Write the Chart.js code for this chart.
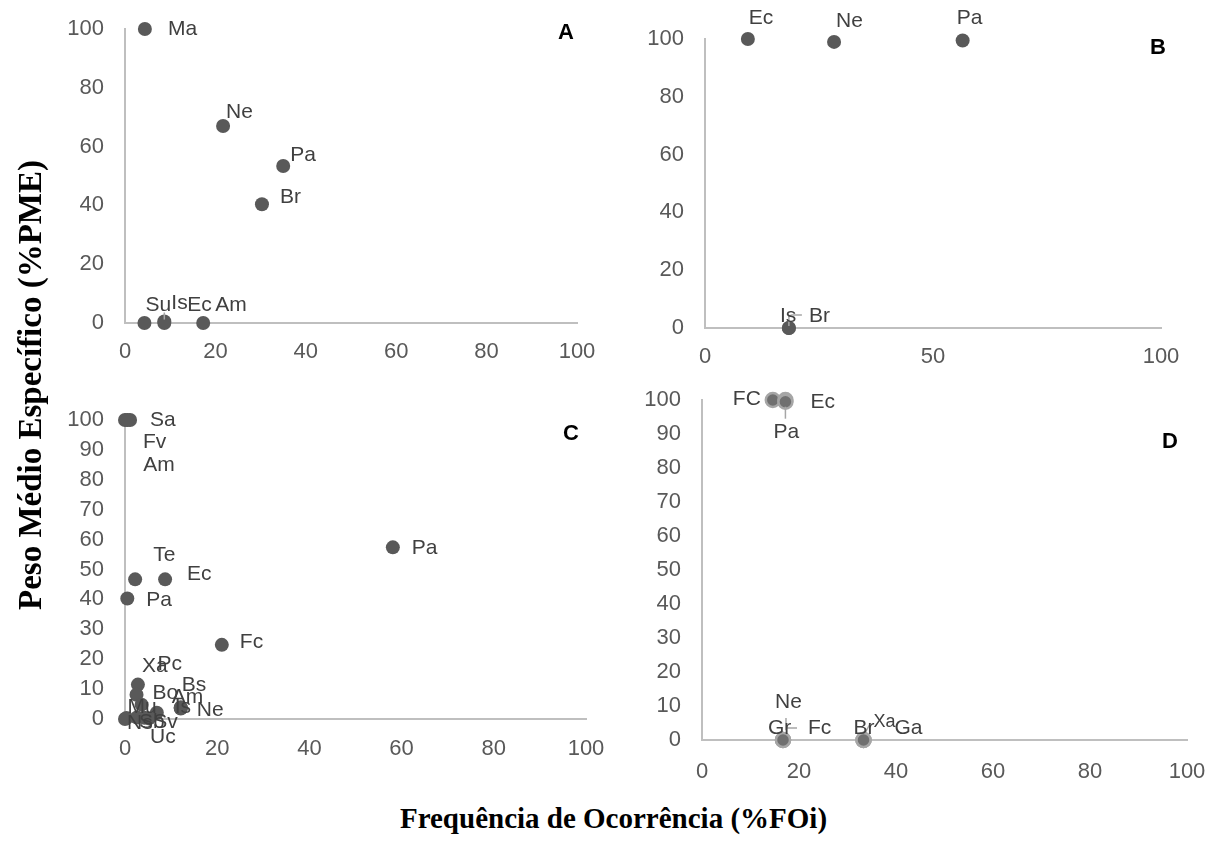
<!DOCTYPE html>
<html><head><meta charset="utf-8">
<script src="https://cdn.jsdelivr.net/npm/chart.js@4"></script>
<style>
html,body{margin:0;padding:0;background:#fff;width:1227px;height:863px;overflow:hidden;position:relative;font-family:'Liberation Sans',Arial,sans-serif}
canvas{position:absolute}
.t{position:absolute;font-family:'Liberation Serif','Times New Roman',serif;font-weight:bold;color:#000;white-space:nowrap;text-align:center}
.p{position:absolute;font-family:'Liberation Sans',Arial,sans-serif;font-weight:bold;font-size:22px;line-height:26px;color:#000;width:30px;text-align:center}
</style></head><body>
<canvas id="cA"></canvas><canvas id="cB"></canvas><canvas id="cC"></canvas><canvas id="cD"></canvas>
<div class="t" style="left:0;top:801px;width:1227px;font-size:29px;line-height:34px">Frequência de Ocorrência (%FOi)</div>
<div class="t" style="left:-270px;top:366px;width:600px;height:38px;font-size:33px;line-height:38px;transform:rotate(-90deg);transform-origin:300px 19px">Peso Médio Específico (%PME)</div>
<div class="p" style="left:551px;top:19px">A</div>
<div class="p" style="left:1143px;top:34px">B</div>
<div class="p" style="left:556px;top:420px">C</div>
<div class="p" style="left:1155px;top:428px">D</div>
<script>
// ---- data ----
const namesA = ['Ma','Ne','Pa','Br','Su','Is','Ec','Am'];
const foA    = [4.4, 21.7, 35, 30.3, 4.3, 8.7, 8.7, 17.3];
const pmeA   = [100, 67, 53.4, 40.4, 0, 0.5, 0, 0];

const namesB = ['Ec','Ne','Pa','Is','Br'];
const foB    = [9.4, 28.3, 56.5, 18.4, 18.4];
const pmeB   = [100, 99, 99.5, 0, 0];

const namesC = ['Sa','Fv','Am','Te','Ec','Pa','Pa','Fc','Xa','Pc','Bo','Bs','Am','Is','Ne','Mu','Ns','Sb','Sv','Uc'];
const foC    = [1.1, 0, 0.5, 2.2, 8.7, 0.5, 58.1, 21, 2.8, 2.5, 3.6, 6.9, 12.1, 12.1, 12.1, 0.3, 0, 2.6, 4.2, 5.2];
const pmeC   = [100, 100, 100, 46.7, 46.7, 40.3, 57.4, 24.8, 11.5, 8.1, 4.8, 2.1, 3.7, 3.5, 3.9, 0.3, 0, 0.5, 0.4, 0.2];

const namesD = ['FC','Ec','Pa','Ne','Gr','Fc','Br','Xa','Ga'];
const foD    = [14.6, 17.2, 17.2, 16.7, 16.7, 16.7, 33.3, 33.3, 33.3];
const pmeD   = [100, 100, 99.5, 0, 0, 0, 0, 0, 0];

const ticksA = {x:20, y:20}, ticksB = {x:50, y:20}, ticksC = {x:20, y:10}, ticksD = {x:20, y:10};

// ---- label placement (style, pixel offsets from the marker) ----
const offA = [[23,0],[3,-14],[7,-11],[18,-7],[1,-18],[7,-18],[23,-18],[12,-18]];
const offB = [[1,-21],[2,-21],[-6,-22],[-9,-12],[20,-12]];
const offC = [[20,0],[18,22],[16,45],[18,-24],[22,-5],[19,2],[19,1],[18,-3],[4,-18],[21,-31],[11,-11],[25,-28],[-9,-11],[-6,-1],[16,3],[1,-11],[2,4],[2,5],[9,4],[1,19]];
const offD = [[-40,-1],[25,2],[-12,31],[-8,-38],[-15,-12],[25,-12],[-10,-12],[10,-18],[31,-12]];
const leadA = [[5,[[0,-2],[0,-9]]]];
const leadB = [[3,[[0,-2],[0,-12],[3,-13],[13,-13]]]];
const leadD = [[2,[[0,5],[0,17]]],[3,[[3,-22],[3,-10]]],[4,[[3,-12],[14,-12]]],[7,[[7,-17],[1,-6]]]];

function makePanel(id, x0, x1, yTop, yBot, xs, ys, names, offs, leads, steps, dStyle, xPad) {
  const L = 80, T = 42, R = 45, B = 50;
  const cv = document.getElementById(id);
  const w = (x1 - x0) + L + R, h = (yBot - yTop) + T + B;
  cv.width = w; cv.height = h;
  cv.style.width = w + 'px'; cv.style.height = h + 'px';
  cv.style.left = (x0 - L) + 'px'; cv.style.top = (yTop - T) + 'px';
  const tickFont = {family: "'Liberation Sans', Arial, sans-serif", size: 22};
  const labelPlugin = {
    id: 'ptLabels' + id,
    afterDatasetsDraw(chart) {
      const ctx = chart.ctx, xs_ = chart.scales.x, ys_ = chart.scales.y;
      ctx.save();
      ctx.strokeStyle = '#a6a6a6'; ctx.lineWidth = 1.5;
      leads.forEach(([i, pts]) => {
        const px = xs_.getPixelForValue(xs[i]), py = ys_.getPixelForValue(ys[i]);
        ctx.beginPath();
        pts.forEach((p, k) => { if (k === 0) ctx.moveTo(px + p[0], py + p[1]); else ctx.lineTo(px + p[0], py + p[1]); });
        ctx.stroke();
      });
      ctx.fillStyle = '#404040';
      ctx.textAlign = 'left'; ctx.textBaseline = 'middle';
      names.forEach((n, i) => {
        const px = xs_.getPixelForValue(xs[i]), py = ys_.getPixelForValue(ys[i]);
        ctx.font = (id === 'cD' && n === 'Xa' ? 18 : 21) + "px 'Liberation Sans', Arial, sans-serif";
        ctx.fillText(n, px + offs[i][0], py + offs[i][1]);
      });
      ctx.restore();
    }
  };
  new Chart(cv, {
    type: 'scatter',
    data: {datasets: [Object.assign({
      data: xs.map((x, i) => ({x: x, y: ys[i]})),
      pointRadius: 7, pointHoverRadius: 7, clip: false
    }, dStyle)]},
    options: {
      responsive: false, animation: false, events: [],
      layout: {padding: {top: T, right: R, left: 0, bottom: 0}},
      plugins: {legend: {display: false}, tooltip: {enabled: false}},
      scales: {
        x: {type: 'linear', min: 0, max: 100,
            grid: {display: false, drawTicks: false},
            border: {display: true, color: '#bfbfbf', width: 2},
            ticks: {stepSize: steps.x, color: '#595959', font: tickFont, padding: xPad, maxRotation: 0, autoSkip: false},
            afterFit(s) { s.height = B; }},
        y: {type: 'linear', min: 0, max: 100,
            grid: {display: false, drawTicks: false},
            border: {display: true, color: '#bfbfbf', width: 2},
            ticks: {stepSize: steps.y, color: '#595959', font: tickFont, padding: 21, autoSkip: false},
            afterFit(s) { s.width = L; }}
      }
    },
    plugins: [labelPlugin]
  });
}

const darkPts = {backgroundColor: '#595959', borderColor: '#595959', borderWidth: 0};
const greyPts = {backgroundColor: '#707070', borderColor: '#a6a6a6', borderWidth: 2.5};

makePanel('cA', 125, 577, 29, 323, foA, pmeA, namesA, offA, leadA, ticksA, darkPts, 16);
makePanel('cB', 705, 1161, 39, 328, foB, pmeB, namesB, offB, leadB, ticksB, darkPts, 16);
makePanel('cC', 125, 586, 420, 719, foC, pmeC, namesC, offC, [], ticksC, darkPts, 17);
makePanel('cD', 702, 1187, 400, 740, foD, pmeD, namesD, offD, leadD, ticksD, greyPts, 19);
</script>
</body></html>
